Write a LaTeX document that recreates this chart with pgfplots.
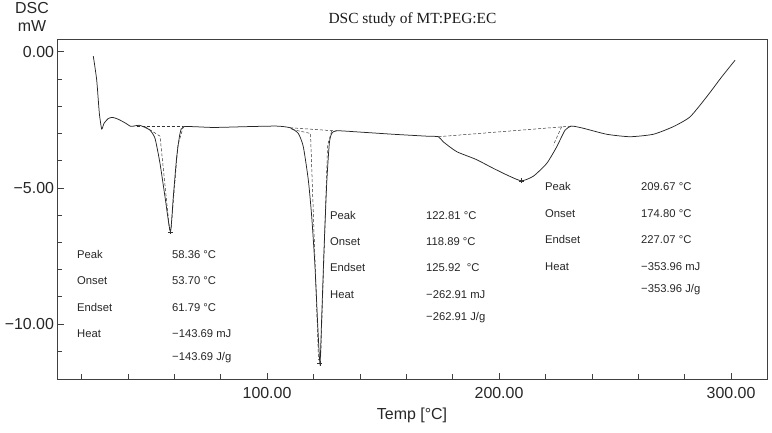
\documentclass[border=0pt]{standalone}
\usepackage{fontspec}
\setmainfont{Liberation Sans}
\newfontfamily\titlefont{Liberation Serif}
\usepackage{pgfplots}
\pgfplotsset{compat=1.18}
\newcommand{\ann}[3]{\node[anchor=mid west, inner sep=0pt, text=black!85, font=\fontsize{11.3}{13}\selectfont] at (#1,#2) {#3};}
\begin{document}
\begin{tikzpicture}[x=1bp,y=1bp]
\path[use as bounding box] (0,0) rectangle (772,433);
\begin{axis}[at={(57.5bp,54bp)}, anchor=south west, scale only axis,
  width=709.5bp, height=340bp,
  xmin=9.7, xmax=315.5, ymin=-12.02, ymax=0.47,
  xtick={100,200,300}, xticklabels={100.00,200.00,300.00},
  ytick={-10,-5,0}, yticklabels={−10.00,−5.00,0.00},
  minor xtick={20,40,60,80,120,140,160,180,220,240,260,280},
  minor ytick={-11,-9,-8,-7,-6,-4,-3,-2,-1},
  tick align=inside, tick pos=left,
  major tick length=6bp, minor tick length=4.5bp,
  tick style={black!75, line width=0.6bp},
  axis line style={black!75, line width=0.8bp},
  ticklabel style={font=\fontsize{16}{18}\selectfont, text=black!85},
  xticklabel style={yshift=-5bp},
]
% main DSC curve
\addplot[black!85, line width=0.75bp, smooth, tension=0.35] coordinates {
(25.13,-0.16) (26.6,-1.04) (27.72,-2.25) (28.75,-2.84) (29.74,-2.63)
(31.6,-2.45) (33.49,-2.41) (35.9,-2.48) (38.8,-2.61) (41.25,-2.74)
(43.1,-2.72) (44.96,-2.70) (46.68,-2.75) (49.57,-2.88) (51.73,-3.18)
(53.88,-4.10) (56.04,-5.33) (58.36,-6.61) (59.61,-5.33) (61.08,-3.86)
(62.5,-3.00) (64.23,-2.75) (76.86,-2.78) (91.25,-2.75) (104.18,-2.73)
(109.92,-2.79) (113.49,-3.00) (115.65,-3.49) (117.8,-4.71) (119.27,-6.06)
(120.69,-7.90) (121.68,-9.73) (122.81,-11.44) (123.58,-9.73) (124.57,-7.28)
(125.73,-4.83) (126.86,-3.36) (127.89,-3.00) (130.04,-2.90) (140.09,-2.95)
(154.44,-3.03) (168.84,-3.10) (173.84,-3.12) (175.99,-3.31) (181.77,-3.67)
(190.0,-3.95) (197.5,-4.28) (204.0,-4.55) (209.67,-4.74) (214.79,-4.57)
(220.56,-4.10) (224.87,-3.49) (228.45,-2.88) (231.34,-2.73) (236.34,-2.81)
(246.42,-3.03) (256.47,-3.12) (266.51,-3.03) (275.13,-2.75) (282.33,-2.39)
(289.53,-1.65) (295.99,-0.92) (301.73,-0.31)
};
% baselines and tangents (dashed)
\addplot[black!80, line width=0.5bp, dash pattern=on 3bp off 2bp] coordinates {(43.84,-2.73) (63.92,-2.73)};
\addplot[black!80, line width=0.5bp, dash pattern=on 3bp off 2bp] coordinates {(47.4,-2.75) (53.88,-3.10) (58.0,-6.55)};
\addplot[black!80, line width=0.5bp, dash pattern=on 3bp off 2bp] coordinates {(64.0,-2.73) (61.6,-3.43) (58.6,-6.55)};
\addplot[black!80, line width=0.5bp, dash pattern=on 3bp off 2bp] coordinates {(109.92,-2.79) (130.04,-2.91)};
\addplot[black!80, line width=0.5bp, dash pattern=on 3bp off 2bp] coordinates {(110.65,-2.85) (118.75,-3.00) (122.2,-11.33)};
\addplot[black!80, line width=0.5bp, dash pattern=on 3bp off 2bp] coordinates {(127.9,-2.91) (126.1,-3.43) (123.1,-11.33)};
\addplot[black!80, line width=0.5bp, dash pattern=on 3bp off 2bp] coordinates {(173.84,-3.12) (231.34,-2.73)};
\addplot[black!80, line width=0.5bp, dash pattern=on 3bp off 2bp] coordinates {(227.0,-2.75) (223.4,-3.43)};
% peak markers
\addplot[only marks, mark=+, mark size=2.5bp, black!80, line width=0.4bp] coordinates {(58.36,-6.61) (122.81,-11.44) (209.67,-4.74)};
\end{axis}
% titles and labels
\node[font=\titlefont\fontsize{15.5}{17}\selectfont, text=black!90] at (412.5,413) {DSC study of MT:PEG:EC};
\node[font=\fontsize{16}{18}\selectfont, text=black!85] at (32,425) {DSC};
\node[font=\fontsize{16}{18}\selectfont, text=black!85] at (32,407) {mW};
\node[font=\fontsize{16}{18}\selectfont, text=black!85] at (412,18) {Temp [°C]};
% peak 1 annotation
\ann{77}{177}{Peak}   \ann{172}{177}{58.36 °C}
\ann{77}{151}{Onset}  \ann{172}{151}{53.70 °C}
\ann{77}{124}{Endset} \ann{172}{124}{61.79 °C}
\ann{77}{98}{Heat}    \ann{172}{98}{−143.69 mJ}
\ann{172}{75}{−143.69 J/g}
% peak 2 annotation
\ann{330}{216}{Peak}   \ann{426}{216}{122.81 °C}
\ann{330}{190}{Onset}  \ann{426}{190}{118.89 °C}
\ann{330}{164}{Endset} \ann{426}{164}{125.92 \ °C}
\ann{330}{137}{Heat}   \ann{426}{137}{−262.91 mJ}
\ann{426}{115}{−262.91 J/g}
% peak 3 annotation
\ann{545}{245}{Peak}   \ann{641}{245}{209.67 °C}
\ann{545}{218}{Onset}  \ann{641}{218}{174.80 °C}
\ann{545}{192}{Endset} \ann{641}{192}{227.07 °C}
\ann{545}{165}{Heat}   \ann{641}{165}{−353.96 mJ}
\ann{641}{143}{−353.96 J/g}
\end{tikzpicture}
\end{document}
